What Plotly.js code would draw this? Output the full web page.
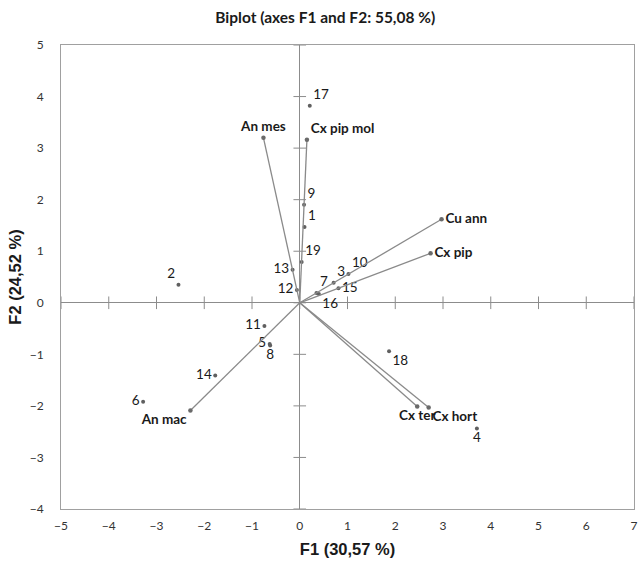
<!DOCTYPE html>
<html>
<head>
<meta charset="utf-8">
<script src="https://cdn.plot.ly/plotly-3.0.1.min.js"></script>
<style>html,body{margin:0;padding:0;background:#fff;}#chart{width:639px;height:561px;}</style>
</head>
<body>
<div id="chart"></div>
<script>
// Observations (F1, F2)
const obsLabels = ['1','2','3','4','5','6','7','8','9','10','11','12','13','14','15','16','17','18','19'];
const obsF1 = [0.10,-2.54,0.71,3.71,-0.63,-3.28,0.35,-0.62,0.09,1.02,-0.74,-0.06,-0.15,-1.77,0.81,0.40,0.21,1.87,0.04];
const obsF2 = [1.47,0.35,0.39,-2.44,-0.80,-1.92,0.19,-0.83,1.90,0.56,-0.45,0.25,0.64,-1.41,0.28,0.17,3.82,-0.94,0.79];

// Variables (vector end points)
const varLabels = ['An mes','Cx pip mol','Cu ann','Cx pip','Cx hort','Cx ter','An mac'];
const varF1 = [-0.76,0.15,2.97,2.74,2.70,2.46,-2.29];
const varF2 = [3.20,3.16,1.62,0.96,-2.03,-2.01,-2.09];

// Axis ticks
const xTicks = [-5,-4,-3,-2,-1,0,1,2,3,4,5,6,7];
const yTicks = [-4,-3,-2,-1,0,1,2,3,4,5];

// label placement (style)
const obsTextPos = ['top right','top left','top right','bottom center','middle left','middle left','top right','bottom center','top right','top right','middle left','middle left','middle left','middle left','middle right','bottom right','top right','bottom right','top right'];
const varTextPos = ['top center','top right','middle right','middle right','bottom right','bottom center','bottom left'];

const vx = [], vy = [];
varF1.forEach((v,i)=>{ vx.push(0, v, null); vy.push(0, varF2[i], null); });

const traces = [
  // cross ticks on the zero axes
  {x: xTicks, y: xTicks.map(()=>0), mode:'markers', type:'scatter', hoverinfo:'skip',
   marker:{symbol:'line-ns', size:9, line:{color:'#8c8c8c', width:1}}},
  {x: yTicks.map(()=>0), y: yTicks, mode:'markers', type:'scatter', hoverinfo:'skip',
   marker:{symbol:'line-ew', size:9, line:{color:'#8c8c8c', width:1}}},
  // observations
  {x: obsF1, y: obsF2, text: obsLabels, mode:'markers+text', type:'scatter', textposition: obsTextPos,
   marker:{color:'#606060', size:4},
   textfont:{family:'Lato, Liberation Sans, sans-serif', size:13.5, color:'#1a1a1a'}},
  // vectors
  {x: vx, y: vy, mode:'lines', type:'scatter', line:{color:'#8a8a8a', width:1.3}, hoverinfo:'skip'},
  {x: varF1, y: varF2, text: varLabels, mode:'markers+text', type:'scatter', textposition: varTextPos,
   marker:{color:'#6a6a6a', size:4.5},
   textfont:{family:'Lato, Liberation Sans, sans-serif', size:13.5, color:'#1a1a1a', weight:'bold'}}
];

const layout = {
  width:639, height:561,
  margin:{l:61, r:5, t:45, b:52},
  paper_bgcolor:'#fff', plot_bgcolor:'#fff',
  showlegend:false,
  title:{text:'<b>Biplot (axes F1 and F2: 55,08 %)</b>', x:0.509, xref:'container', xanchor:'center',
         y:0.968, yref:'container', yanchor:'middle',
         font:{family:'Lato, Liberation Sans, sans-serif', size:15.5, color:'#1a1a1a'}},
  xaxis:{range:[-5,7], tickvals:xTicks, showgrid:false, zeroline:true, zerolinecolor:'#8c8c8c', zerolinewidth:1,
         showline:true, mirror:true, linecolor:'#a0a0a0', linewidth:1, ticks:'', ticklabelstandoff:6,
         tickfont:{family:'Lato, Liberation Sans, sans-serif', size:12, color:'#333'},
         title:{text:'<b>F1 (30,57 %)</b>', standoff:11, font:{family:'Liberation Sans, Arial, sans-serif', size:16.5, color:'#1a1a1a'}}},
  yaxis:{range:[-4,5], tickvals:yTicks, showgrid:false, zeroline:true, zerolinecolor:'#8c8c8c', zerolinewidth:1,
         showline:true, mirror:true, linecolor:'#a0a0a0', linewidth:1, ticks:'', ticklabelstandoff:14,
         tickfont:{family:'Lato, Liberation Sans, sans-serif', size:12, color:'#333'},
         title:{text:'<b>F2 (24,52 %)</b>', standoff:3, font:{family:'Liberation Sans, Arial, sans-serif', size:16.5, color:'#1a1a1a'}}}
};

Plotly.newPlot('chart', traces, layout, {displayModeBar:false, staticPlot:true});
</script>
</body>
</html>
